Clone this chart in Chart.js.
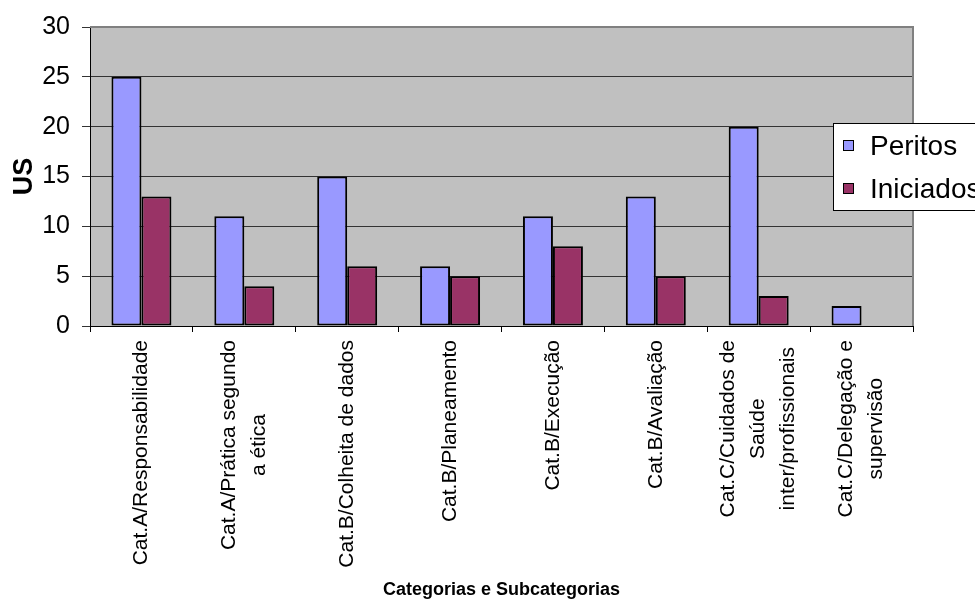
<!DOCTYPE html>
<html>
<head>
<meta charset="utf-8">
<script src="https://cdn.jsdelivr.net/npm/chart.js@4"></script>
<style>
    html, body { margin: 0; padding: 0; background: #fff; overflow: hidden; }
    #chartContainer { position: relative; width: 975px; height: 604px; }
</style>
</head>
<body>
<div id="chartContainer"><canvas id="usChart"></canvas></div>
<script>
// --- DATA ---
const categories = [
    ['Cat.A/Responsabilidade'],
    ['Cat.A/Prática segundo', 'a ética'],
    ['Cat.B/Colheita de dados'],
    ['Cat.B/Planeamento'],
    ['Cat.B/Execução'],
    ['Cat.B/Avaliação'],
    ['Cat.C/Cuidados de', 'Saúde', 'inter/profissionais'],
    ['Cat.C/Delegação e', 'supervisão'],
];
const seriesNames = ['Peritos', 'Iniciados'];
const peritos = [25, 11, 15, 6, 11, 13, 20, 2];
const iniciados = [13, 4, 6, 5, 8, 5, 3, 0];
const yTicks = [0, 5, 10, 15, 20, 25, 30];

const FONT = '"Liberation Sans", Arial, sans-serif';

// plot background, frame, rotated category labels and the boxed legend
const plotDecor = {
    id: 'plotDecor',
    beforeDraw(chart) {
        const { ctx, chartArea: a } = chart;
        ctx.save();
        ctx.fillStyle = '#c0c0c0';
        ctx.fillRect(a.left, a.top, a.right - a.left, a.bottom - a.top);
        ctx.restore();
    },
    afterDraw(chart) {
        const { ctx, chartArea: a } = chart;
        const xs = chart.scales.x;

        // frame top / right
        ctx.save();
        ctx.strokeStyle = '#808080';
        ctx.lineWidth = 2;
        ctx.beginPath();
        ctx.moveTo(a.left, a.top);
        ctx.lineTo(a.right, a.top);
        ctx.lineTo(a.right, a.bottom);
        ctx.stroke();
        ctx.restore();

        // category labels, lines centred on each other
        ctx.save();
        ctx.font = '21px ' + FONT;
        ctx.fillStyle = '#000';
        ctx.textAlign = 'center';
        ctx.textBaseline = 'middle';
        const lineH = 30;
        categories.forEach((lines, i) => {
            const x = xs.getPixelForTick(i);
            const w = Math.max(...lines.map((l) => ctx.measureText(l).width));
            const cy = xs.top + 14 + w / 2;
            lines.forEach((line, j) => {
                const cx = x - ((lines.length - 1) * lineH) / 2 + j * lineH;
                ctx.save();
                ctx.translate(cx, cy);
                ctx.rotate(-Math.PI / 2);
                ctx.fillText(line, 0, 0);
                ctx.restore();
            });
        });
        ctx.restore();

        // legend
        ctx.save();
        ctx.fillStyle = '#fff';
        ctx.strokeStyle = '#000';
        ctx.lineWidth = 1;
        ctx.fillRect(833.5, 123.5, 200, 87);
        ctx.strokeRect(833.5, 123.5, 200, 87);
        ctx.font = '28px ' + FONT;
        ctx.textAlign = 'left';
        ctx.textBaseline = 'middle';
        const rows = [147, 190];
        chart.data.datasets.forEach((ds, i) => {
            ctx.fillStyle = ds.backgroundColor;
            ctx.fillRect(843.5, rows[i] - 6.5, 10, 10);
            ctx.strokeRect(843.5, rows[i] - 6.5, 10, 10);
            ctx.fillStyle = '#000';
            ctx.fillText(ds.label, 870, rows[i]);
        });
        ctx.restore();
    },
};

const ctx = document.getElementById('usChart').getContext('2d');
const usChart = new Chart(ctx, {
    type: 'bar',
    data: {
        labels: categories.map((c) => c.join(' ')),
        datasets: [
            {
                label: seriesNames[0],
                data: peritos,
                backgroundColor: '#9999ff',
                borderColor: '#000',
                borderWidth: 2,
                borderSkipped: false,
            },
            {
                label: seriesNames[1],
                data: iniciados,
                backgroundColor: '#993366',
                borderColor: '#000',
                borderWidth: 2,
                borderSkipped: false,
            },
        ],
    },
    options: {
        responsive: true,
        maintainAspectRatio: false,
        animation: false,
        layout: { padding: { top: 25, right: 62, left: 0, bottom: 0 } },
        datasets: { bar: { categoryPercentage: 0.583, barPercentage: 1 } },
        plugins: {
            legend: { display: false },
            tooltip: { enabled: false },
        },
        scales: {
            x: {
                ticks: { display: false },
                grid: {
                    offset: true,
                    drawOnChartArea: false,
                    drawTicks: true,
                    tickLength: 6,
                    color: '#000',
                },
                border: { display: true, color: '#000', width: 1 },
                title: {
                    display: true,
                    text: 'Categorias e Subcategorias',
                    color: '#000',
                    font: { family: FONT, size: 18, weight: 'bold' },
                    padding: { top: 0, bottom: 3 },
                },
                afterFit(scale) {
                    scale.height = 278;
                },
            },
            y: {
                min: 0,
                max: 30,
                afterBuildTicks(scale) {
                    scale.ticks = yTicks.map((v) => ({ value: v }));
                },
                ticks: {
                    color: '#000',
                    padding: 12,
                    font: { family: FONT, size: 25 },
                },
                grid: {
                    color: '#333',
                    lineWidth: 1,
                    tickLength: 8,
                    tickColor: '#333',
                },
                border: { display: true, color: '#000', width: 1 },
                title: {
                    display: true,
                    text: 'US',
                    color: '#000',
                    font: { family: FONT, size: 27, weight: 'bold' },
                    padding: { top: 8, bottom: 0 },
                },
                afterFit(scale) {
                    scale.width = 90;
                },
            },
        },
    },
    plugins: [plotDecor],
});
</script>
</body>
</html>
